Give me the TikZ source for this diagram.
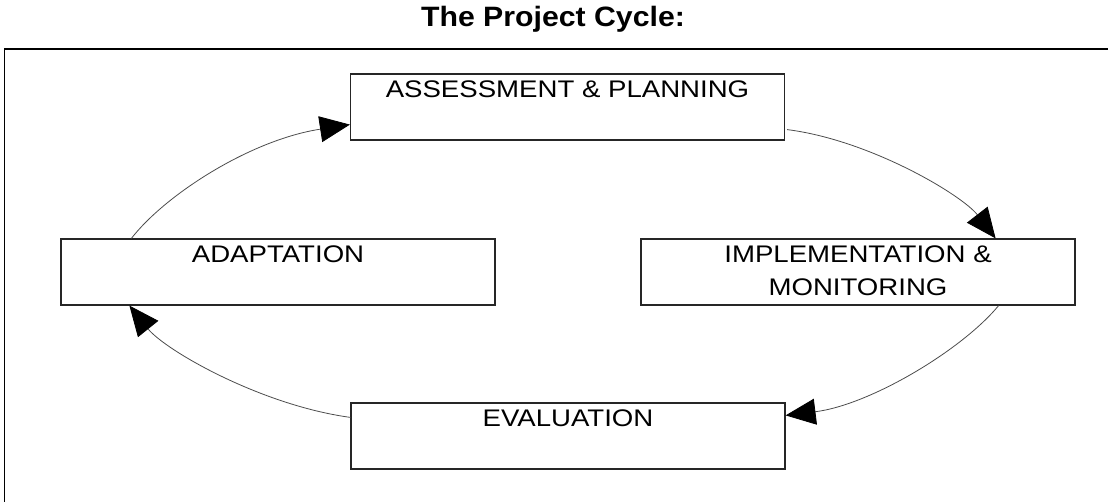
\documentclass[tikz,border=0pt]{standalone}
\usepackage{fontspec}
\usepackage{tikz}
\usetikzlibrary{arrows.meta}
\newfontfamily\cyclefont[FakeStretch=1.15]{Liberation Sans}
\newfontfamily\titlefont[FakeStretch=1.08]{Liberation Sans}

\begin{document}
\begin{tikzpicture}[
  x=1pt, y=-1pt,
  cyclebox/.style={draw=black!85, line width=1.2pt, minimum width=434pt, minimum height=66pt,
    inner sep=0pt, align=center, font=\cyclefont\fontsize{24}{33}\selectfont},
  cyclearrow/.style={draw=black!70, line width=0.8pt,
    -{Triangle[length=30pt, width=26pt, color=black, fill=black]}},
  ]
  \useasboundingbox (0,0) rectangle (1108,502);
  %Title and frame
  \node[font=\titlefont\bfseries\fontsize{28}{32}\selectfont](title) at (553,19){The Project Cycle:};
  \draw[line width=1.5pt] (4.5,502) -- (4.5,49);
  \draw[line width=2pt] (4,49) -- (1108,49);
  %Nodes
  \node[cyclebox](plan) at (567.5,107){\strut ASSESSMENT \& PLANNING\\\strut};
  \node[cyclebox](impl) at (858,272){\strut IMPLEMENTATION \&\\\strut MONITORING};
  \node[cyclebox](eval) at (568,436){\strut EVALUATION\\\strut};
  \node[cyclebox](adapt) at (278,272){\strut ADAPTATION\\\strut};
  %Lines
  \draw[cyclearrow] ([xshift=2pt,yshift=11pt]plan.south east)
    .. controls (870,140) and (962,195) .. ([xshift=-80pt]impl.north east);
  \draw[cyclearrow] ([xshift=-77pt]impl.south east)
    .. controls (962,350) and (870,405) .. ([yshift=-13pt]eval.north east);
  \draw[cyclearrow] ([yshift=-15pt]eval.north west)
    .. controls (260,405) and (165,350) .. ([xshift=69pt]adapt.south west);
  \draw[cyclearrow] ([xshift=71pt]adapt.north west)
    .. controls (165,195) and (250,140) .. ([yshift=16pt]plan.south west);
\end{tikzpicture}
\end{document}
